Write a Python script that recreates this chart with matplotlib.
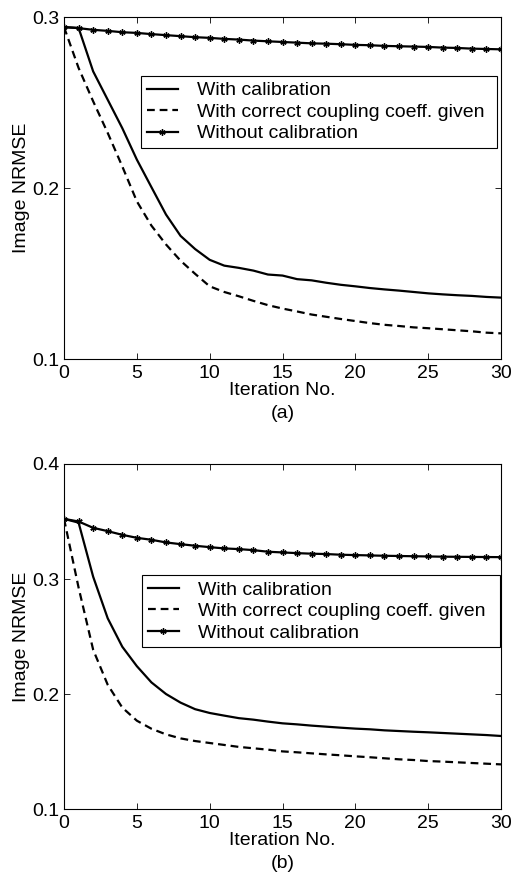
import matplotlib
matplotlib.use("Agg")
import matplotlib.pyplot as plt

plt.rcParams["font.family"] = ["Liberation Sans", "DejaVu Sans"]
plt.rcParams["font.size"] = 14

# номера итераций
iters = list(range(31))

# (a)
a_with = [0.2941, 0.2936, 0.2682, 0.2516, 0.2350, 0.2166, 0.2005, 0.1845, 0.1720, 0.1643,
          0.1580, 0.1546, 0.1533, 0.1517, 0.1494, 0.1488, 0.1467, 0.1460, 0.1446, 0.1434,
          0.1425, 0.1415, 0.1407, 0.1400, 0.1392, 0.1384, 0.1378, 0.1373, 0.1369, 0.1363, 0.1359]
a_correct = [0.2941, 0.2702, 0.2507, 0.2322, 0.2126, 0.1922, 0.1780, 0.1670, 0.1575, 0.1498,
             0.1425, 0.1392, 0.1367, 0.1340, 0.1315, 0.1295, 0.1278, 0.1260, 0.1247, 0.1234,
             0.1222, 0.1210, 0.1200, 0.1193, 0.1185, 0.1180, 0.1174, 0.1168, 0.1162, 0.1154, 0.1150]
a_without = [0.2941, 0.2935, 0.2925, 0.2919, 0.2911, 0.2907, 0.2900, 0.2894, 0.2888, 0.2882,
             0.2878, 0.2872, 0.2868, 0.2862, 0.2858, 0.2854, 0.2850, 0.2846, 0.2844, 0.2841,
             0.2837, 0.2835, 0.2831, 0.2829, 0.2827, 0.2825, 0.2821, 0.2819, 0.2815, 0.2813, 0.2811]

# (b)
b_with = [0.3523, 0.3490, 0.3020, 0.2658, 0.2411, 0.2242, 0.2101, 0.2000, 0.1925, 0.1868,
          0.1835, 0.1812, 0.1790, 0.1777, 0.1760, 0.1745, 0.1736, 0.1725, 0.1716, 0.1707,
          0.1699, 0.1693, 0.1684, 0.1678, 0.1672, 0.1667, 0.1661, 0.1655, 0.1649, 0.1643, 0.1635]
b_correct = [0.3523, 0.2925, 0.2385, 0.2080, 0.1882, 0.1768, 0.1698, 0.1649, 0.1614, 0.1591,
             0.1574, 0.1557, 0.1540, 0.1528, 0.1516, 0.1501, 0.1493, 0.1484, 0.1475, 0.1467,
             0.1458, 0.1450, 0.1441, 0.1432, 0.1426, 0.1417, 0.1412, 0.1406, 0.1400, 0.1394, 0.1388]
b_without = [0.3523, 0.3500, 0.3445, 0.3416, 0.3384, 0.3358, 0.3341, 0.3318, 0.3303, 0.3289,
             0.3277, 0.3266, 0.3260, 0.3251, 0.3237, 0.3231, 0.3225, 0.3220, 0.3217, 0.3211,
             0.3208, 0.3205, 0.3202, 0.3200, 0.3198, 0.3196, 0.3194, 0.3193, 0.3192, 0.3191, 0.3190]

labels = ["With calibration", "With correct coupling coeff. given", "Without calibration"]
xticks = [0, 5, 10, 15, 20, 25, 30]

fig = plt.figure(figsize=(5.18, 8.86), dpi=100)


def panel(rect, w, c, wo, yticks, leg_box, caption):
    ax = fig.add_axes(rect)
    ax.plot(iters, w, color="black", lw=1.6, label=labels[0])
    ax.plot(iters, c, color="black", lw=1.6, dashes=(3.5, 2.2), label=labels[1])
    ax.plot(iters, wo, color="black", lw=1.6, marker=(6, 2, 0), ms=4.5, mew=1.0,
            label=labels[2])
    ax.set_xlim(0, 30)
    ax.set_ylim(yticks[0], yticks[-1])
    ax.set_xticks(xticks)
    ax.set_yticks(yticks)
    ax.set_yticklabels(["%.1f" % t for t in yticks])
    ax.tick_params(direction="in", top=True, right=True, length=4, width=0.6)
    ax.tick_params(axis="x", pad=4)
    ax.tick_params(axis="y", pad=3)
    for s in ax.spines.values():
        s.set_linewidth(0.8)
    ax.set_xlabel("Iteration No.", labelpad=0)
    ax.set_ylabel("Image NRMSE", labelpad=2)
    leg = ax.legend(loc="upper left", bbox_to_anchor=leg_box, mode="expand",
                    borderaxespad=0, fancybox=False, edgecolor="black", framealpha=1,
                    handlelength=1.6, labelspacing=0.2, borderpad=0.3, handletextpad=1.0)
    leg.get_frame().set_linewidth(0.8)
    fig.text(rect[0] + rect[2] / 2, rect[1] - 0.061, caption, ha="center", va="center")
    return ax


panel([0.1236, 0.5948, 0.8436, 0.386], a_with, a_correct, a_without,
      [0.1, 0.2, 0.3], (0.176, 0.62, 0.815, 0.2075), "(a)")
panel([0.1236, 0.0869, 0.8436, 0.3894], b_with, b_correct, b_without,
      [0.1, 0.2, 0.3, 0.4], (0.178, 0.47, 0.819, 0.208), "(b)")

fig.savefig("out.png", dpi=100)
